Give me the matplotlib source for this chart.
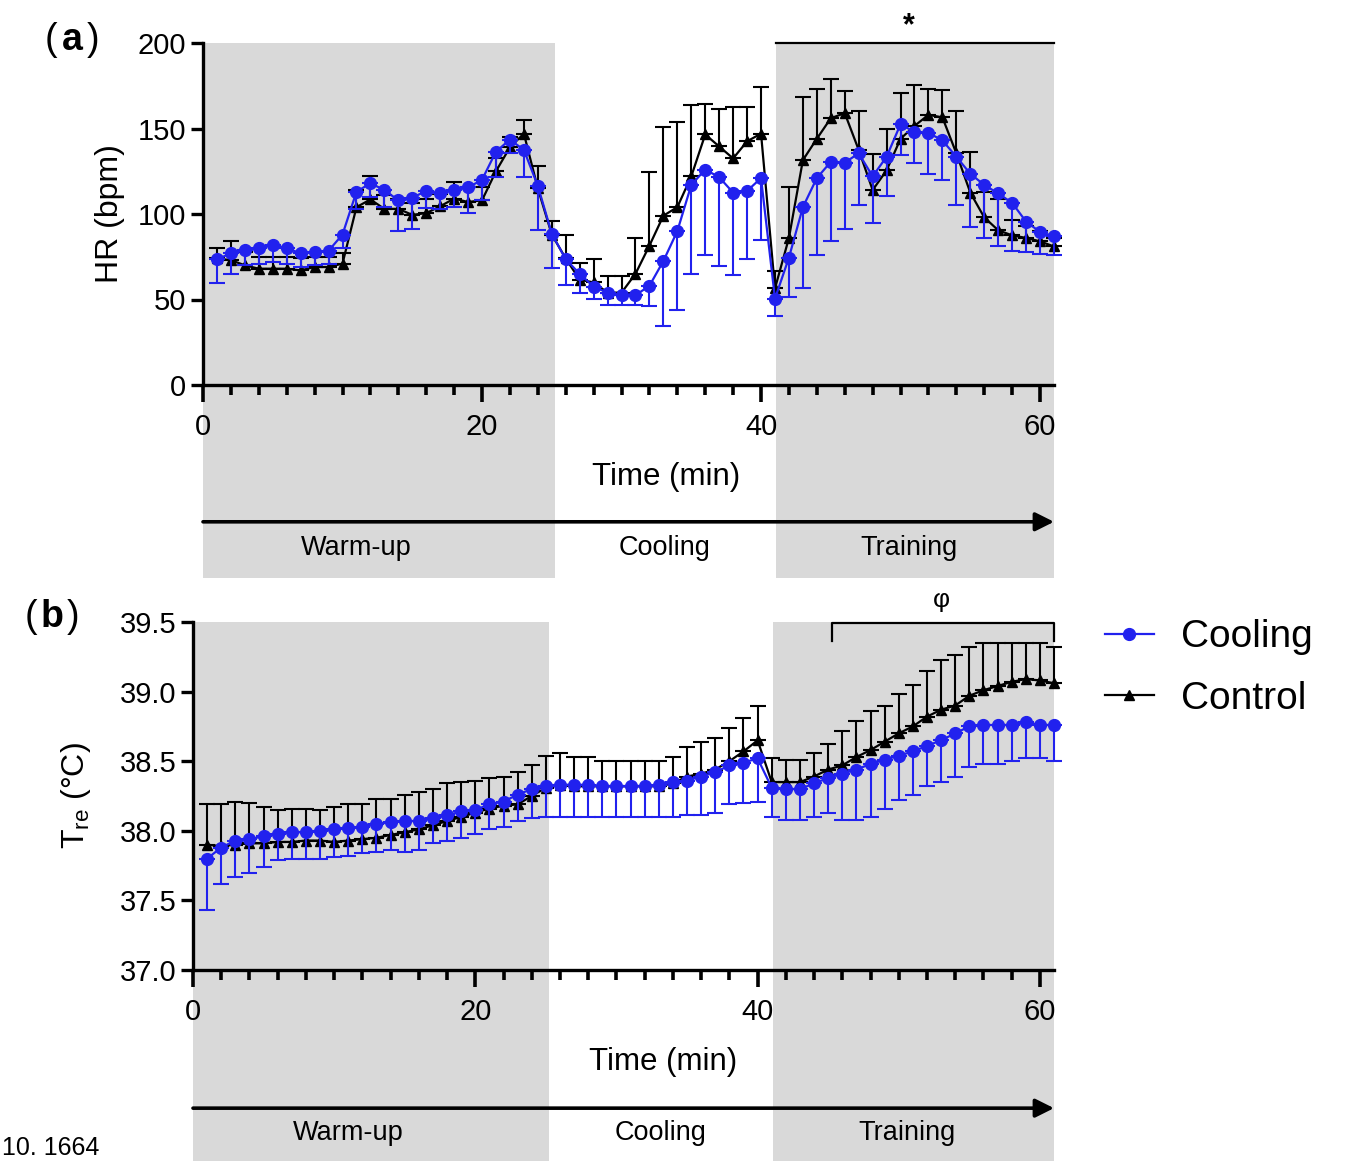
import numpy as np
import matplotlib
import matplotlib.pyplot as plt
from matplotlib.lines import Line2D
from matplotlib.patches import Rectangle

matplotlib.use("agg")

plt.rcParams["font.family"] = ["Liberation Sans", "DejaVu Sans"]
plt.rcParams["mathtext.fontset"] = "custom"
plt.rcParams["mathtext.rm"] = "Liberation Sans"
plt.rcParams["mathtext.it"] = "Liberation Sans:italic"
plt.rcParams["mathtext.bf"] = "Liberation Sans:bold"

minutes = list(range(1, 62))

# heart rate (bpm), mean and SD per minute
hr_cooling = [73.5, 77, 79, 80, 82, 80, 77, 78, 78.5, 88,
              113, 118, 114, 108, 109.5, 113.5, 112, 114, 115.5, 120,
              136.5, 143.5, 137.5, 116.5, 88.5, 73.5, 65, 57.5, 54, 52.5,
              52.5, 58, 72.5, 90, 117, 126, 121.5, 112.5, 113.5, 121,
              50.5, 74.5, 104, 121, 130.5, 130, 135.5, 122, 133.5, 152.5,
              148, 147.5, 143, 133.5, 123.5, 117, 112, 106.5, 95.5, 89.5, 87]
hr_cooling_sd = [14, 12, 9, 9, 10, 9, 8, 8, 8, 8,
                 10, 8, 10, 18, 18, 10, 9, 10, 15, 12,
                 15, 8, 16, 26, 20, 15, 11, 7, 7, 6,
                 6, 12, 38, 46, 52, 50, 52, 48, 40, 36,
                 10, 23, 47, 45, 46, 39, 30, 27, 23, 18,
                 18, 24, 23, 28, 31, 31, 31, 28, 18, 13, 11]
hr_control = [74, 73, 70, 68, 68, 68, 67, 69, 69, 71,
              104, 108.5, 103, 103, 99.5, 100.5, 104.5, 109, 107, 108,
              125, 139, 147, 115, 88, 74, 61.5, 60, 54, 54,
              65, 81.5, 99, 104, 122, 146.5, 139.5, 132.5, 142.5, 147,
              56.5, 86, 131.5, 144, 156, 159, 137.5, 114, 125.5, 144,
              151.5, 158, 156.5, 135.5, 112.5, 98, 90.5, 87.5, 86, 84, 81]
hr_control_sd = [6, 11, 8, 7, 7, 7, 7, 6, 6, 6,
                 10, 14, 8, 6, 7, 8, 7, 10, 9, 8,
                 8, 6, 8, 13, 8, 14, 10, 13.5, 10, 10,
                 21, 43, 52, 50, 42, 18, 22, 30, 20, 27,
                 10, 30, 37, 29, 23, 13, 23, 21, 24, 27,
                 24, 15, 16, 25, 24, 15, 18, 9, 7, 6, 5]

# rectal temperature (deg C), mean and SD per minute
tre_cooling = [37.80, 37.88, 37.93, 37.94, 37.96, 37.98, 37.99, 37.99, 38.00, 38.01,
               38.02, 38.03, 38.05, 38.06, 38.07, 38.07, 38.09, 38.11, 38.14, 38.15,
               38.19, 38.21, 38.26, 38.30, 38.32, 38.33, 38.33, 38.33, 38.32, 38.32,
               38.32, 38.32, 38.33, 38.35, 38.36, 38.39, 38.42, 38.47, 38.49, 38.52,
               38.31, 38.30, 38.30, 38.34, 38.38, 38.41, 38.44, 38.48, 38.51, 38.54,
               38.57, 38.61, 38.65, 38.70, 38.75, 38.76, 38.76, 38.76, 38.78, 38.76, 38.76]
tre_cooling_sd = [0.37, 0.26, 0.26, 0.24, 0.22, 0.19, 0.19, 0.19, 0.20, 0.20,
                  0.20, 0.19, 0.20, 0.20, 0.22, 0.21, 0.18, 0.18, 0.19, 0.17,
                  0.18, 0.18, 0.19, 0.21, 0.22, 0.23, 0.23, 0.23, 0.22, 0.22,
                  0.22, 0.22, 0.23, 0.25, 0.25, 0.28, 0.29, 0.28, 0.29, 0.31,
                  0.21, 0.22, 0.22, 0.24, 0.25, 0.33, 0.36, 0.38, 0.35, 0.32,
                  0.31, 0.29, 0.30, 0.31, 0.29, 0.28, 0.28, 0.26, 0.26, 0.24, 0.26]
tre_control = [37.90, 37.89, 37.90, 37.91, 37.91, 37.92, 37.92, 37.93, 37.93, 37.92,
               37.93, 37.94, 37.95, 37.97, 37.99, 38.01, 38.04, 38.07, 38.10, 38.13,
               38.16, 38.18, 38.19, 38.25, 38.31, 38.33, 38.32, 38.32, 38.32, 38.32,
               38.32, 38.32, 38.32, 38.34, 38.39, 38.41, 38.44, 38.50, 38.57, 38.65,
               38.35, 38.35, 38.35, 38.39, 38.44, 38.47, 38.53, 38.58, 38.64, 38.70,
               38.75, 38.82, 38.87, 38.90, 38.97, 39.01, 39.04, 39.07, 39.09, 39.08, 39.06]
tre_control_sd = [0.29, 0.30, 0.31, 0.29, 0.26, 0.23, 0.24, 0.23, 0.22, 0.25,
                  0.26, 0.25, 0.28, 0.26, 0.27, 0.27, 0.26, 0.27, 0.25, 0.23,
                  0.22, 0.21, 0.23, 0.22, 0.23, 0.23, 0.21, 0.21, 0.18, 0.18,
                  0.18, 0.18, 0.18, 0.19, 0.21, 0.23, 0.23, 0.24, 0.24, 0.25,
                  0.17, 0.16, 0.16, 0.17, 0.18, 0.25, 0.26, 0.28, 0.26, 0.28,
                  0.30, 0.33, 0.36, 0.36, 0.35, 0.34, 0.31, 0.28, 0.26, 0.27, 0.26]

phase_names = ["Warm-up", "Cooling", "Training"]
phase_label_x = [11.0, 33.1, 50.6]
warmup_span = (0, 25.2)
training_span = (41.1, 61)

BLUE = "#2121ee"
GREY = "#d9d9d9"
XMAX = 61


def shade_phases(ax, bottom):
    trans = ax.get_xaxis_transform()
    for x0, x1 in (warmup_span, training_span):
        ax.add_patch(Rectangle((x0, bottom), x1 - x0, 1 - bottom, transform=trans,
                               facecolor=GREY, edgecolor="none", clip_on=False, zorder=0))


def phase_arrow(ax, y_arrow, y_text):
    trans = ax.get_xaxis_transform()
    ax.annotate("", xy=(XMAX, y_arrow), xytext=(0, y_arrow), xycoords=trans,
                textcoords=trans, annotation_clip=False,
                arrowprops=dict(arrowstyle="-|>", lw=2.6, color="black",
                                mutation_scale=28, shrinkA=0, shrinkB=0))
    for name, x in zip(phase_names, phase_label_x):
        ax.text(x, y_text, name, transform=trans, ha="center", va="center", fontsize=19.5)


def draw_series(ax, mean, sd, color, marker, ms, upper, z):
    sd = np.asarray(sd)
    zeros = np.zeros_like(sd)
    yerr = [zeros, sd] if upper else [sd, zeros]
    cont = ax.errorbar(minutes, mean, yerr=yerr, fmt="-" + marker, color=color,
                       ecolor=color, ms=ms, lw=1.6, elinewidth=1.5, capsize=5.5,
                       capthick=1.5, zorder=z)
    cont[0].set_clip_on(False)
    for art in list(cont[1]) + list(cont[2]):
        art.set_clip_on(False)


def style_axes(ax):
    ax.patch.set_visible(False)
    for side in ("top", "right"):
        ax.spines[side].set_visible(False)
    for side in ("left", "bottom"):
        ax.spines[side].set_linewidth(2.4)
    ax.set_xlim(0, XMAX)
    ax.set_xticks([0, 20, 40, 60])
    ax.set_xticks(np.arange(2, 61, 2), minor=True)
    ax.tick_params(axis="x", which="major", length=12, width=2.6, pad=8, labelsize=21)
    ax.tick_params(axis="x", which="minor", length=7, width=2.6)
    ax.tick_params(axis="y", length=9, width=2.4, pad=3, labelsize=21)


fig = plt.figure(figsize=(13.52, 11.61), dpi=100)

# (a) heart rate
ax1 = fig.add_axes([203 / 1352, 1 - 385 / 1161, 851 / 1352, 342 / 1161])
style_axes(ax1)
ax1.set_ylim(0, 200)
ax1.set_yticks([0, 50, 100, 150, 200])
shade_phases(ax1, -0.565)
draw_series(ax1, hr_control, hr_control_sd, "black", "^", 6.5, True, 3)
draw_series(ax1, hr_cooling, hr_cooling_sd, BLUE, "o", 8.5, False, 4)
ax1.plot([training_span[0], XMAX], [200, 200], color="black", lw=1.6, clip_on=False)
ax1.text(50.6, 210, "*", ha="center", va="center", fontsize=22, fontweight="bold")
ax1.text(33.2, -0.27, "Time (min)", transform=ax1.get_xaxis_transform(),
         ha="center", va="center", fontsize=22.5)
ax1.set_ylabel("HR (bpm)", fontsize=23)
ax1.yaxis.set_label_coords(-0.092, 0.5)
phase_arrow(ax1, -0.40, -0.477)

# (b) rectal temperature
ax2 = fig.add_axes([193 / 1352, 1 - 970 / 1161, 861 / 1352, 348 / 1161])
style_axes(ax2)
ax2.set_ylim(37.0, 39.5)
ax2.set_yticks([37.0, 37.5, 38.0, 38.5, 39.0, 39.5])
ax2.yaxis.set_major_formatter(matplotlib.ticker.FormatStrFormatter("%.1f"))
shade_phases(ax2, -0.56)
draw_series(ax2, tre_control, tre_control_sd, "black", "^", 6.5, True, 3)
draw_series(ax2, tre_cooling, tre_cooling_sd, BLUE, "o", 8.5, False, 4)
ax2.plot([45.3, 45.3, XMAX, XMAX], [39.36, 39.49, 39.49, 39.36], color="black",
         lw=1.6, clip_on=False)
ax2.text(53.0, 39.66, "φ", ha="center", va="center", fontsize=19)
ax2.text(33.3, -0.264, "Time (min)", transform=ax2.get_xaxis_transform(),
         ha="center", va="center", fontsize=22.5)
ax2.set_ylabel(r"$\mathrm{T}_{\mathrm{re}}$ (°C)", fontsize=23)
ax2.yaxis.set_label_coords(-0.116, 0.5)
phase_arrow(ax2, -0.397, -0.468)

# panel letters
for x, y, letter in ((45, 1 - 40 / 1161, "a"), (25, 1 - 617 / 1161, "b")):
    fig.text(x / 1352, y, "(", fontsize=27, ha="left", va="center")
    fig.text((x + 27) / 1352, y, letter, fontsize=27, fontweight="bold", ha="center", va="center")
    fig.text((x + 54) / 1352, y, ")", fontsize=27, ha="right", va="center")

handles = [Line2D([], [], color=BLUE, marker="o", ms=8.5, lw=1.6),
           Line2D([], [], color="black", marker="^", ms=6.5, lw=1.6)]
fig.legend(handles, ["Cooling", "Control"], loc="center left",
           bbox_to_anchor=(1105 / 1352, 1 - 668 / 1161), frameon=False, fontsize=28,
           handlelength=1.25, handletextpad=0.7, labelspacing=0.65,
           borderpad=0, borderaxespad=0)

fig.text(2 / 1352, 1 - 1148 / 1161, "10. 1664", fontsize=18, ha="left", va="center")

plt.savefig("out.png", dpi=100)
